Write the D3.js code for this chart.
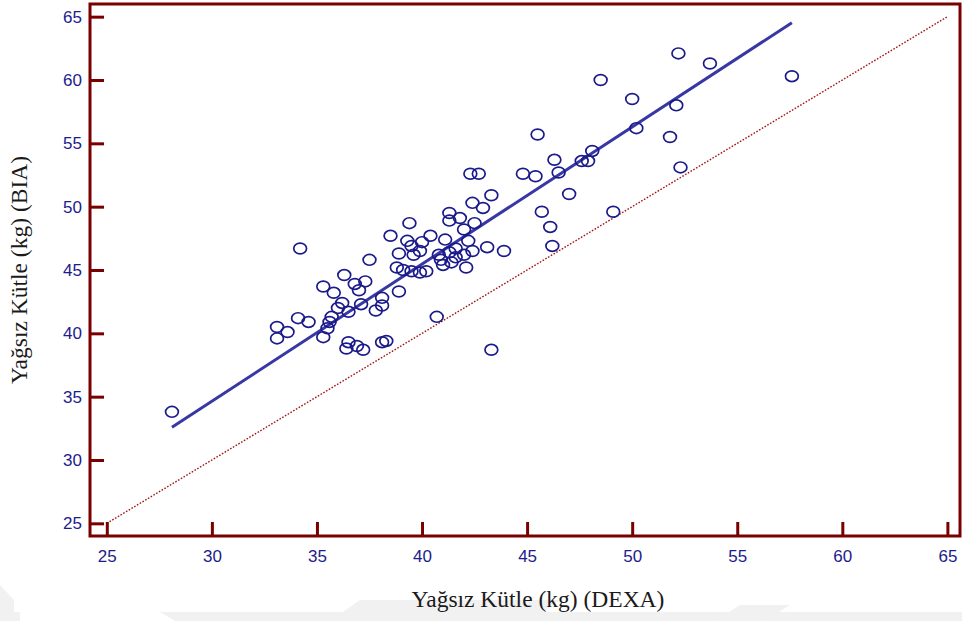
<!DOCTYPE html>
<html>
<head>
<meta charset="utf-8">
<script src="https://cdn.jsdelivr.net/npm/d3@7"></script>
<style>
  html, body { margin: 0; padding: 0; background: #fff; }
  svg { display: block; }
</style>
</head>
<body>
<svg id="chart" width="962" height="621"></svg>
<script>
// Lean mass: DEXA (x) vs BIA (y), kg
const dexa = [
  28.1, 33.1, 33.1, 33.6, 34.1, 34.6, 34.2, 35.3, 35.5, 35.6,
  35.7, 35.3, 35.8, 36.2, 36.0, 36.3, 36.8, 37.3, 37.0, 37.1,
  36.5, 37.8, 38.1, 38.1, 36.5, 36.4, 36.9, 37.2, 38.1, 38.3,
  37.5, 38.9, 38.8, 38.9, 38.5, 39.4, 39.3, 39.5, 40.0, 39.6,
  39.9, 39.1, 39.5, 39.9, 40.2, 40.4, 41.1, 42.2, 40.8, 41.3,
  41.6, 42.0, 42.4, 41.6, 40.9, 41.0, 41.4, 42.1, 40.7, 43.3,
  43.3, 42.4, 42.9, 41.3, 41.3, 41.8, 42.5, 42.0, 43.1, 43.9,
  42.3, 42.7, 44.8, 45.4, 46.5, 47.6, 47.9, 48.1, 46.3, 45.5,
  47.0, 45.7, 49.1, 46.1, 46.2, 52.2, 53.7, 57.6, 48.5, 50.0,
  52.1, 50.2, 51.8, 52.3
];
const bia = [
  33.8, 40.5, 39.6, 40.1, 41.2, 40.9, 46.7, 39.7, 40.4, 40.9,
  41.3, 43.7, 43.2, 42.4, 42.0, 44.6, 43.9, 44.1, 43.4, 42.3,
  41.7, 41.8, 42.8, 42.2, 39.3, 38.8, 39.0, 38.7, 39.3, 39.4,
  45.8, 43.3, 45.2, 46.3, 47.7, 48.7, 47.3, 46.9, 47.2, 46.2,
  46.5, 45.0, 44.9, 44.8, 44.9, 47.7, 47.4, 47.3, 46.2, 46.4,
  46.7, 46.2, 46.5, 46.0, 45.8, 45.4, 45.6, 45.2, 41.3, 38.7,
  50.9, 50.3, 49.9, 49.5, 48.9, 49.1, 48.7, 48.2, 46.8, 46.5,
  52.6, 52.6, 52.6, 52.4, 52.7, 53.6, 53.6, 54.4, 53.7, 55.7,
  51.0, 49.6, 49.6, 48.4, 46.9, 62.1, 61.3, 60.3, 60.0, 58.5,
  58.0, 56.2, 55.5, 53.1
];

// Fitted regression line: BIA = intercept + slope * DEXA
const fitIntercept = 2.16;
const fitSlope = 1.0827;

// Axis ticks
const xTicks = [25, 30, 35, 40, 45, 50, 55, 60, 65];
const yTicks = [25, 30, 35, 40, 45, 50, 55, 60, 65];

const xTitle = "Yağsız Kütle (kg) (DEXA)";
const yTitle = "Yağsız Kütle (kg) (BIA)";

const svg = d3.select("#chart");
const frame = { left: 90, right: 960, top: 4, bottom: 536 };

const x = d3.scaleLinear().domain([24.2, 65.6]).range([frame.left, frame.right]);
const y = d3.scaleLinear().domain([24.0, 66.0]).range([frame.bottom, frame.top]);

const axisColor = "#7a0000";
const labelColor = "#1c1c8c";

// Faint page background shading along the bottom edge
const shade = svg.append("g").attr("fill", "#f1f1f1");
shade.append("polygon").attr("points", "0,612 962,612 962,621 0,621");
shade.append("polygon").attr("points", "0,585 14,600 14,621 0,621");
shade.append("polygon").attr("points", "330,621 360,600 560,600 530,621");
shade.append("polygon").attr("points", "715,621 740,605 790,605 765,621");
svg.append("polygon").attr("fill", "#fff").attr("points", "20,612 160,612 175,621 20,621");

// Line of identity (y = x)
svg.append("line")
  .attr("x1", x(25)).attr("y1", y(25))
  .attr("x2", x(65)).attr("y2", y(65))
  .attr("stroke", "#a31515")
  .attr("stroke-width", 1.4)
  .attr("stroke-dasharray", "1.6,1.6");

// Regression line over the range of the data
const [xMinData, xMaxData] = d3.extent(dexa);
svg.append("line")
  .attr("x1", x(xMinData)).attr("y1", y(fitIntercept + fitSlope * xMinData))
  .attr("x2", x(xMaxData)).attr("y2", y(fitIntercept + fitSlope * xMaxData))
  .attr("stroke", "#3838a4")
  .attr("stroke-width", 3);

// Observations
svg.append("g")
  .selectAll("ellipse")
  .data(d3.range(dexa.length))
  .join("ellipse")
  .attr("cx", i => x(dexa[i]))
  .attr("cy", i => y(bia[i]))
  .attr("rx", 6.4)
  .attr("ry", 5.4)
  .attr("fill", "none")
  .attr("stroke", "#1a1a8a")
  .attr("stroke-width", 1.7);

// Axes with inward ticks
const xAxis = d3.axisBottom(x).tickValues(xTicks).tickSizeInner(-14).tickSizeOuter(0).tickPadding(10);
const yAxis = d3.axisLeft(y).tickValues(yTicks).tickSizeInner(-14).tickSizeOuter(0).tickPadding(8);

const gx = svg.append("g").attr("transform", `translate(0,${frame.bottom})`).call(xAxis);
const gy = svg.append("g").attr("transform", `translate(${frame.left},0)`).call(yAxis);

[gx, gy].forEach(g => {
  g.select(".domain").remove();
  g.selectAll(".tick line").attr("stroke", axisColor).attr("stroke-width", 3);
  g.selectAll(".tick text")
    .attr("fill", labelColor)
    .style("font-family", "'Liberation Sans', Arial, sans-serif")
    .style("font-size", "17px");
});
gx.selectAll(".tick text").attr("dy", "0.95em");

// Plot frame
svg.append("rect")
  .attr("x", frame.left).attr("y", frame.top)
  .attr("width", frame.right - frame.left)
  .attr("height", frame.bottom - frame.top)
  .attr("fill", "none")
  .attr("stroke", axisColor)
  .attr("stroke-width", 3);

// Axis titles
svg.append("text")
  .attr("x", 538)
  .attr("y", 607)
  .attr("text-anchor", "middle")
  .attr("fill", "#1a1a1a")
  .style("font-family", "'Liberation Serif', 'Times New Roman', serif")
  .style("font-size", "23.5px")
  .text(xTitle);

svg.append("text")
  .attr("transform", `translate(27,270) rotate(-90)`)
  .attr("text-anchor", "middle")
  .attr("fill", "#1a1a1a")
  .style("font-family", "'Liberation Serif', 'Times New Roman', serif")
  .style("font-size", "23.5px")
  .text(yTitle);
</script>
</body>
</html>
